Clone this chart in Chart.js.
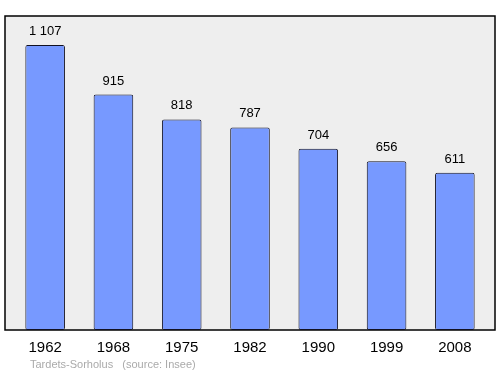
<!DOCTYPE html>
<html lang="fr">
<head>
<meta charset="UTF-8">
<title>Tardets-Sorholus population</title>
<style>
  body { margin: 0; padding: 0; background: #ffffff; }
  .wrap { position: relative; width: 500px; height: 374px; }
</style>
<script src="https://cdn.jsdelivr.net/npm/chart.js"></script>
</head>
<body>
<div class="wrap"><canvas id="popChart" width="500" height="374"></canvas></div>
<script>
// données
const years = ['1962', '1968', '1975', '1982', '1990', '1999', '2008'];
const population = [1107, 915, 818, 787, 704, 656, 611];
const sourceText = 'Tardets-Sorholus   (source: Insee)';

function fmt(n) {
    return String(n).replace(/\B(?=(\d{3})+(?!\d))/g, ' ');
}

// fond gris + cadre
const framePlugin = {
    id: 'frame',
    beforeDraw(chart) {
        const { ctx, chartArea: a } = chart;
        ctx.save();
        ctx.fillStyle = '#eeeeee';
        ctx.fillRect(a.left - 6, a.top, a.right - a.left + 12, a.bottom - a.top);
        ctx.strokeStyle = '#000000';
        ctx.lineWidth = 1.5;
        ctx.strokeRect(a.left - 6, a.top, a.right - a.left + 12, a.bottom - a.top);
        ctx.restore();
    }
};

// valeurs, années et source
const labelsPlugin = {
    id: 'labels',
    afterDraw(chart) {
        const { ctx, chartArea: a } = chart;
        const x = chart.scales.x, y = chart.scales.y;
        ctx.save();
        ctx.textAlign = 'center';
        ctx.fillStyle = '#000000';
        ctx.font = '13px "Liberation Sans", Arial, sans-serif';
        ctx.textBaseline = 'alphabetic';
        population.forEach((v, i) => {
            ctx.fillText(fmt(v), x.getPixelForValue(i), y.getPixelForValue(v) - 10);
        });
        ctx.font = '15px "Liberation Sans", Arial, sans-serif';
        ctx.textBaseline = 'middle';
        years.forEach((yr, i) => {
            ctx.fillText(yr, x.getPixelForValue(i), a.bottom + 18);
        });
        ctx.textAlign = 'left';
        ctx.fillStyle = '#aaaaaa';
        ctx.font = '11px "Liberation Sans", Arial, sans-serif';
        ctx.fillText(sourceText, 30, a.bottom + 35);
        ctx.restore();
    }
};

new Chart(document.getElementById('popChart'), {
    type: 'bar',
    data: {
        labels: years,
        datasets: [{
            data: population,
            backgroundColor: '#7799ff',
            borderColor: '#111122',
            borderWidth: 1,
            borderRadius: 2,
            borderSkipped: false,
            barPercentage: 0.58,
            categoryPercentage: 1
        }]
    },
    options: {
        responsive: false,
        animation: false,
        layout: { padding: { left: 11, right: 11, top: 16, bottom: 44 } },
        scales: {
            x: { display: false },
            y: { display: false, min: 0, max: 1220 }
        },
        plugins: {
            legend: { display: false },
            tooltip: { enabled: false }
        }
    },
    plugins: [framePlugin, labelsPlugin]
});
</script>
</body>
</html>
